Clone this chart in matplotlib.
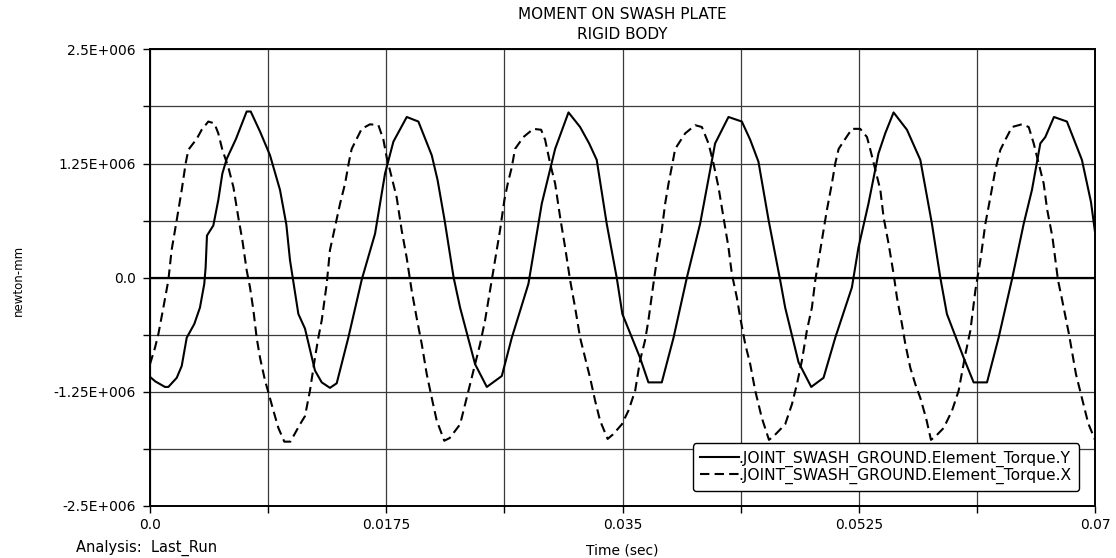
import matplotlib
matplotlib.use("Agg")
import matplotlib.pyplot as plt
import numpy as np

plt.rcParams['font.family'] = ['DejaVu Sans']

# ---------------- data ----------------
title_lines = ["MOMENT ON SWASH PLATE", "RIGID BODY"]
x_label = "Time (sec)"
y_label = "newton-mm"
footer = "Analysis:  Last_Run"
series_names = [".JOINT_SWASH_GROUND.Element_Torque.Y",
                ".JOINT_SWASH_GROUND.Element_Torque.X"]

x_major_ticks = [0.0, 0.0175, 0.035, 0.0525, 0.07]
x_major_labels = ["0.0", "0.0175", "0.035", "0.0525", "0.07"]
x_minor_ticks = [0.00875, 0.02625, 0.04375, 0.06125]
y_major_ticks = [2.5e6, 1.25e6, 0.0, -1.25e6, -2.5e6]
y_major_labels = ["2.5E+006", "1.25E+006", "0.0", "-1.25E+006", "-2.5E+006"]
y_minor_ticks = [1.875e6, 0.625e6, -0.625e6, -1.875e6]

# Torque Y (solid): time in ms, value in 1e6 newton-mm
torque_y_t_ms = [0.00, 0.40, 1.11, 1.36, 1.98, 2.35, 2.72, 3.28, 3.70, 4.02, 4.12, 4.22,
                 4.69, 5.06, 5.36, 5.68, 6.37, 7.16, 7.46, 8.15, 8.89, 9.63, 10.10, 10.37,
                 10.99, 11.48, 12.22, 12.72, 13.33, 13.83, 14.69, 15.69, 16.67, 17.41, 18.03,
                 19.02, 19.88, 20.87, 21.30, 21.82, 22.49, 22.97, 24.08, 24.95, 26.06, 26.80,
                 28.03, 29.02, 30.01, 31.00, 31.86, 32.53, 33.09, 33.83, 34.57, 34.99, 36.30,
                 36.92, 37.91, 38.78, 39.77, 40.75, 41.86, 42.85, 43.84, 44.46, 45.07, 45.82,
                 46.68, 47.05, 48.04, 48.98, 49.89, 50.76, 51.99, 52.48, 53.22, 53.96, 54.46,
                 55.08, 56.07, 57.06, 57.92, 58.54, 59.03, 60.27, 61.01, 62.00, 62.86, 63.85,
                 64.72, 65.33, 65.95, 66.32, 66.96, 67.92, 69.03, 69.70, 70.00]
torque_y_val = [-1.09, -1.14, -1.20, -1.20, -1.10, -0.97, -0.66, -0.51, -0.33, -0.07, 0.11, 0.46,
                0.57, 0.85, 1.14, 1.30, 1.52, 1.82, 1.82, 1.60, 1.34, 0.96, 0.58, 0.19,
                -0.40, -0.56, -1.02, -1.15, -1.21, -1.16, -0.66, -0.02, 0.48, 1.14, 1.49,
                1.76, 1.71, 1.34, 1.07, 0.63, 0.00, -0.33, -0.95, -1.20, -1.08, -0.66,
                -0.07, 0.81, 1.41, 1.81, 1.65, 1.47, 1.29, 0.59, 0.00, -0.40, -0.88,
                -1.15, -1.15, -0.66, 0.00, 0.59, 1.47, 1.76, 1.71, 1.51, 1.27, 0.63,
                -0.03, -0.33, -0.93, -1.20, -1.10, -0.66, -0.11, 0.33, 0.81, 1.36, 1.58,
                1.81, 1.62, 1.29, 0.59, 0.00, -0.40, -0.88, -1.15, -1.15, -0.66, -0.02,
                0.59, 0.96, 1.47, 1.54, 1.76, 1.71, 1.29, 0.83, 0.50]

# Torque X (dashed)
torque_x_t_ms = [0.00, 0.37, 0.62, 0.99, 1.36, 1.60, 1.98, 2.35, 2.64, 2.84, 3.46, 3.83, 4.32,
                 4.77, 5.06, 5.36, 5.80, 6.18, 6.54, 6.84, 7.16, 7.41, 7.66, 7.90, 8.15, 8.52,
                 8.77, 9.14, 9.51, 9.95, 10.40, 11.11, 11.48, 11.85, 12.22, 12.47, 12.72, 13.09,
                 13.33, 13.70, 14.08, 14.45, 14.74, 14.94, 15.68, 16.30, 16.92, 17.29, 17.53,
                 17.90, 18.27, 18.64, 19.01, 19.38, 19.75, 20.13, 20.50, 20.87, 21.24, 21.80,
                 22.20, 22.97, 23.34, 23.71, 24.08, 24.45, 24.82, 25.19, 25.56, 25.93, 26.25,
                 26.50, 26.80, 27.04, 27.66, 28.40, 28.97, 29.27, 29.64, 30.01, 30.38, 30.75,
                 31.12, 31.49, 31.86, 32.23, 32.60, 32.97, 33.34, 33.90, 34.30, 34.95, 35.44,
                 35.94, 36.30, 36.67, 36.92, 37.29, 37.54, 37.91, 38.16, 38.41, 38.70, 38.90,
                 39.64, 40.38, 40.88, 41.37, 41.74, 42.11, 42.48, 42.85, 43.10, 43.47, 43.72,
                 44.09, 44.46, 44.83, 45.32, 45.85, 46.20, 47.05, 47.55, 47.92, 48.29, 48.66,
                 49.03, 49.28, 49.65, 49.89, 50.14, 50.51, 50.76, 51.01, 51.50, 52.00, 52.61,
                 53.11, 53.36, 53.73, 54.10, 54.34, 54.71, 55.08, 55.33, 55.70, 55.95, 56.32,
                 56.69, 57.06, 57.50, 57.85, 58.20, 58.79, 59.41, 59.90, 60.40, 60.77, 61.14,
                 61.51, 61.88, 62.25, 62.62, 62.99, 63.36, 63.85, 64.59, 65.09, 65.46, 65.83,
                 66.20, 66.45, 66.85, 67.26, 67.53, 68.07, 68.59, 69.16, 69.50, 70.00]
torque_x_val = [-0.95, -0.77, -0.62, -0.33, -0.03, 0.30, 0.63, 0.96, 1.25, 1.40, 1.52, 1.62, 1.71,
                1.69, 1.58, 1.40, 1.21, 0.99, 0.66, 0.41, 0.08, -0.11, -0.36, -0.66, -0.88, -1.13,
                -1.26, -1.46, -1.65, -1.80, -1.80, -1.61, -1.52, -1.24, -0.88, -0.66, -0.47, -0.07,
                0.30, 0.55, 0.81, 1.03, 1.27, 1.41, 1.63, 1.68, 1.67, 1.51, 1.32,
                1.10, 0.88, 0.52, 0.22, -0.14, -0.44, -0.73, -1.06, -1.32, -1.57, -1.79,
                -1.76, -1.61, -1.39, -1.17, -0.95, -0.73, -0.47, -0.14, 0.19, 0.52, 0.85,
                1.03, 1.21, 1.41, 1.54, 1.63, 1.62, 1.51, 1.25, 1.03, 0.66, 0.33,
                -0.03, -0.33, -0.66, -0.88, -1.10, -1.35, -1.57, -1.77, -1.72, -1.61, -1.46,
                -1.24, -0.91, -0.69, -0.47, -0.07, 0.19, 0.52, 0.81, 1.03, 1.25, 1.41,
                1.58, 1.67, 1.65, 1.47, 1.25, 0.99, 0.66, 0.33, 0.04, -0.22, -0.44,
                -0.73, -0.95, -1.24, -1.54, -1.78, -1.74, -1.61, -1.39, -1.17, -0.91, -0.58,
                -0.33, -0.03, 0.30, 0.52, 0.74, 1.03, 1.25, 1.41, 1.52, 1.63, 1.63,
                1.54, 1.40, 1.18, 0.96, 0.66, 0.37, 0.04, -0.22, -0.51, -0.73, -0.99,
                -1.17, -1.32, -1.55, -1.78, -1.74, -1.65, -1.46, -1.24, -0.84, -0.58, -0.14,
                0.19, 0.59, 0.88, 1.18, 1.40, 1.51, 1.65, 1.68, 1.65, 1.47, 1.25,
                1.03, 0.75, 0.44, -0.03, -0.22, -0.62, -1.06, -1.40, -1.60, -1.78]

# ---------------- figure ----------------
W, H = 1116, 558
fig = plt.figure(figsize=(W / 100, H / 100), dpi=100)
ax = fig.add_axes([150 / W, 52.5 / H, 945 / W, 456 / H])

ty = np.array(torque_y_t_ms) / 1000.0
vy = np.array(torque_y_val) * 1e6
tx = np.array(torque_x_t_ms) / 1000.0
vx = np.array(torque_x_val) * 1e6

ax.plot(ty, vy, color='black', lw=1.5, ls='-', label=series_names[0], zorder=3)
ax.plot(tx, vx, color='black', lw=1.5, ls=(0, (4.5, 2.5)), label=series_names[1], zorder=3)

ax.set_xlim(0, 0.07)
ax.set_ylim(-2.5e6, 2.5e6)

ax.set_xticks(x_major_ticks)
ax.set_xticklabels(x_major_labels)
ax.set_xticks(x_minor_ticks, minor=True)
ax.set_yticks(y_major_ticks)
ax.set_yticklabels(y_major_labels)
ax.set_yticks(y_minor_ticks, minor=True)

ax.tick_params(axis='both', which='both', direction='out', length=5, width=1,
               color='black', labelsize=10, pad=4)
ax.tick_params(axis='y', which='both', pad=5)

ax.grid(True, which='both', color='#3a3a3a', lw=0.9, zorder=1)
ax.axhline(0, color='black', lw=1.6, zorder=2)

for sp in ax.spines.values():
    sp.set_linewidth(1.4)
    sp.set_color('black')

# texts
cx = (150 + 945 / 2) / W
fig.text(cx, 1 - 14.5 / H, title_lines[0], ha='center', va='center', fontsize=11)
fig.text(cx, 1 - 34.3 / H, title_lines[1], ha='center', va='center', fontsize=11)
fig.text(622 / W, 1 - 550 / H, x_label, ha='center', va='center', fontsize=10)
fig.text(76 / W, 1 - 548 / H, footer, ha='left', va='center', fontsize=10.5)
fig.text(18 / W, 1 - 280 / H, y_label, ha='center', va='center', rotation=90, fontsize=8.5)

leg = ax.legend(loc='lower right', bbox_to_anchor=(0.983, 0.0325), borderaxespad=0,
                prop={'size': 11.2}, handlelength=2.5, handletextpad=0.0, labelspacing=0.05,
                borderpad=0.45, fancybox=True, framealpha=1, edgecolor='black')
leg.get_frame().set_linewidth(1.0)
leg.set_zorder(5)

fig.savefig("out.png", dpi=100)
